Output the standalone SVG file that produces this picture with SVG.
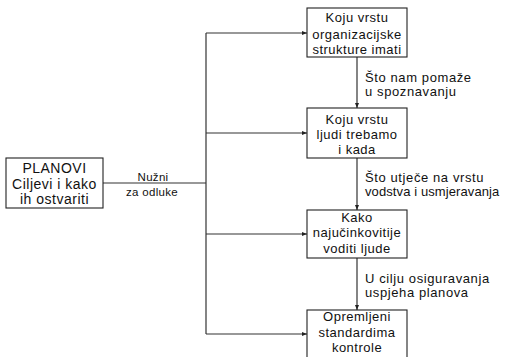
<svg xmlns="http://www.w3.org/2000/svg" width="506" height="357" viewBox="0 0 506 357">
<style>
  .box { fill: #ffffff; stroke: #222; stroke-width: 1.1; }
  .t { font-family: "Liberation Sans", Arial, sans-serif; font-size: 13px; letter-spacing: 0.5px; fill: #111; text-anchor: middle; }
  .tl { font-family: "Liberation Sans", Arial, sans-serif; font-size: 13px; letter-spacing: 0.6px; fill: #111; }
  .tight { letter-spacing: 0.1px; }
  .big { font-size: 14px; letter-spacing: 0.5px; }
  .sm { font-size: 11.5px; letter-spacing: 0.3px; }
  .ln { fill: none; stroke: #333; stroke-width: 1.2; }
</style>
<defs>
  <marker id="ah" viewBox="0 0 10 10" refX="10" refY="5" markerWidth="5" markerHeight="5" orient="auto" markerUnits="userSpaceOnUse">
    <path d="M0,1 L10,5 L0,9 z" fill="#222"/>
  </marker>
</defs>
<rect width="506" height="357" fill="#ffffff"/>
<g id="connectors">
  <line class="ln" x1="103" y1="183" x2="206" y2="183"/>
  <line class="ln" x1="206" y1="33" x2="206" y2="334"/>
  <line class="ln" x1="206" y1="33" x2="307" y2="33" marker-end="url(#ah)"/>
  <line class="ln" x1="206" y1="133" x2="307" y2="133" marker-end="url(#ah)"/>
  <line class="ln" x1="206" y1="234" x2="307" y2="234" marker-end="url(#ah)"/>
  <line class="ln" x1="206" y1="334" x2="307" y2="334" marker-end="url(#ah)"/>
  <line class="ln" x1="357" y1="57" x2="357" y2="108" marker-end="url(#ah)"/>
  <line class="ln" x1="357" y1="158" x2="357" y2="210" marker-end="url(#ah)"/>
  <line class="ln" x1="357" y1="258" x2="357" y2="310" marker-end="url(#ah)"/>
  <text class="t sm" x="153" y="181">Nužni</text>
  <text class="t sm" x="152" y="196">za odluke</text>
  <text class="tl" x="365" y="81.5">Što nam pomaže</text>
  <text class="tl" x="365" y="95.5">u spoznavanju</text>
  <text class="tl" x="365" y="181.5">Što utječe na vrstu</text>
  <text class="tl tight" x="365" y="195.5">vodstva i usmjeravanja</text>
  <text class="tl" x="365" y="283">U cilju osiguravanja</text>
  <text class="tl" x="365" y="297">uspjeha planova</text>
</g>
<g id="planovi">
  <rect class="box" x="6" y="158" width="97" height="50"/>
  <text class="t big" x="54.5" y="173">PLANOVI</text>
  <text class="t big" x="54.5" y="188.5">Ciljevi i kako</text>
  <text class="t big" x="54.5" y="204">ih ostvariti</text>
</g>
<g id="n1">
  <rect class="box" x="307" y="8" width="100" height="49"/>
  <text class="t" x="357" y="22">Koju vrstu</text>
  <text class="t" x="357" y="38.5">organizacijske</text>
  <text class="t" x="357" y="54">strukture imati</text>
</g>
<g id="n2">
  <rect class="box" x="307" y="108" width="100" height="50"/>
  <text class="t" x="357" y="123.5">Koju vrstu</text>
  <text class="t" x="357" y="139">ljudi trebamo</text>
  <text class="t" x="357" y="154">i kada</text>
</g>
<g id="n3">
  <rect class="box" x="307" y="210" width="100" height="48"/>
  <text class="t" x="357" y="222">Kako</text>
  <text class="t" x="357" y="237">najučinkovitije</text>
  <text class="t" x="357" y="253">voditi ljude</text>
</g>
<g id="n4">
  <rect class="box" x="307" y="310" width="100" height="52"/>
  <text class="t" x="357" y="321">Opremljeni</text>
  <text class="t" x="357" y="337">standardima</text>
  <text class="t" x="357" y="352">kontrole</text>
</g>
</svg>
